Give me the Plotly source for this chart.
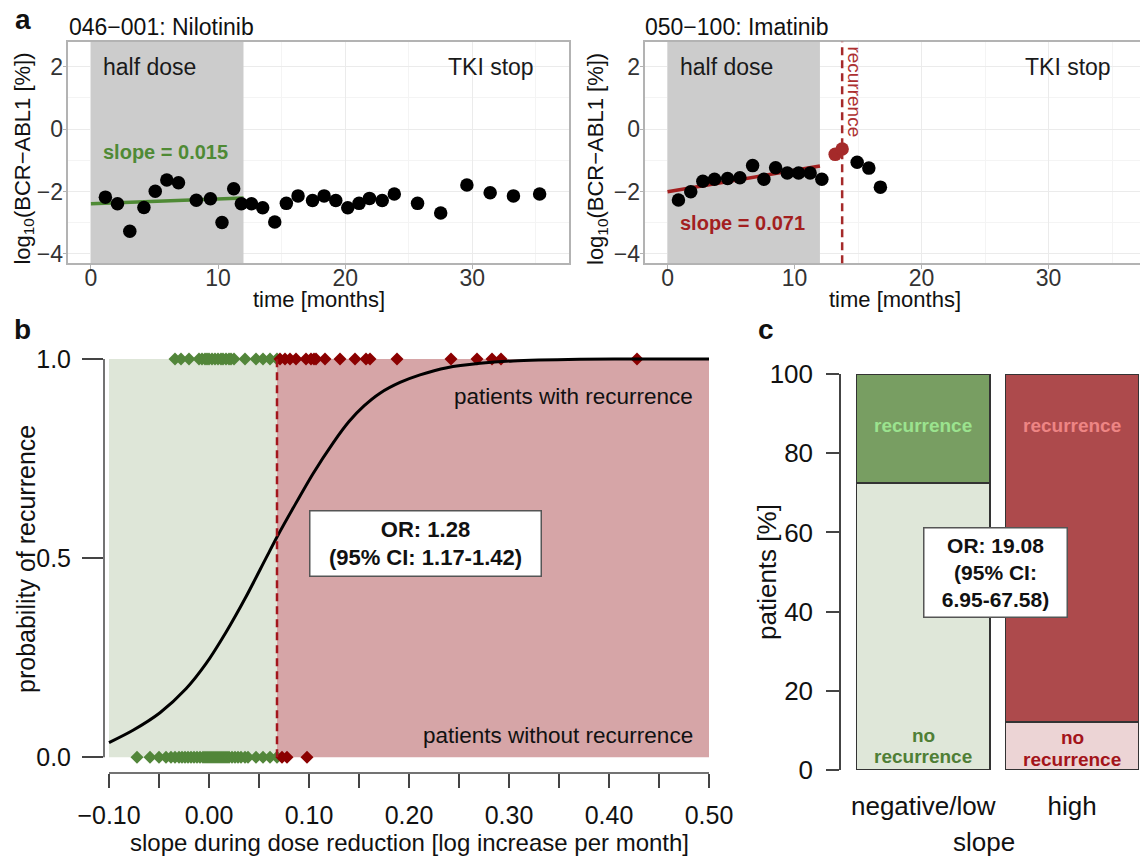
import plotly.graph_objects as go

# ---------------- data ----------------
# panel a, left: 046-001 Nilotinib
nil_t = [1.14, 2.09, 3.06, 4.17, 5.06, 5.97, 6.89, 8.29, 9.40, 10.31, 11.23, 11.83, 12.63, 13.51, 14.46,
         15.37, 16.29, 17.43, 18.34, 19.26, 20.20, 21.09, 21.91, 22.91, 23.86, 25.69, 27.51, 29.57, 31.40,
         33.23, 35.29]
nil_v = [-2.18, -2.39, -3.27, -2.51, -1.99, -1.63, -1.72, -2.28, -2.23, -2.99, -1.91, -2.39, -2.39, -2.52,
         -2.98, -2.38, -2.14, -2.29, -2.14, -2.29, -2.52, -2.38, -2.22, -2.29, -2.08, -2.38, -2.69, -1.79,
         -2.04, -2.14, -2.08]
nil_fit_t = [0, 12]
nil_fit_v = [-2.39, -2.21]

# panel a, right: 050-100 Imatinib
ima_t = [0.86, 1.83, 2.78, 3.70, 4.73, 5.70, 6.70, 7.59, 8.51, 9.43, 10.32, 11.23, 12.15, 14.93, 15.85, 16.76]
ima_v = [-2.27, -2.01, -1.67, -1.61, -1.58, -1.56, -1.17, -1.61, -1.24, -1.41, -1.41, -1.41, -1.61, -1.06,
         -1.25, -1.86]
ima_rec_t = [13.20, 13.75]
ima_rec_v = [-0.81, -0.64]
ima_fit_t = [0, 12]
ima_fit_v = [-2.01, -1.18]
half_dose_period = [0, 12]
recurrence_time = 13.75
a_yrange = [-4.3, 2.8]

# panel b
threshold = 0.068
green_top = [-0.034, -0.028, -0.020, -0.010, -0.007, -0.004, -0.002, 0.000, 0.003, 0.006, 0.009, 0.012,
             0.014, 0.017, 0.020, 0.022, 0.025, 0.036, 0.047, 0.054, 0.061, 0.068]
red_top = [0.071, 0.076, 0.081, 0.087, 0.097, 0.102, 0.105, 0.107, 0.116, 0.131, 0.146, 0.157, 0.161,
           0.188, 0.242, 0.268, 0.283, 0.292, 0.428]
green_bottom = [-0.072, -0.059, -0.050, -0.043, -0.038, -0.034, -0.030, -0.027, -0.024, -0.021, -0.018,
                -0.015, -0.012, -0.009, -0.006, -0.004, -0.002, 0.000, 0.002, 0.004, 0.006, 0.008, 0.010,
                0.012, 0.014, 0.016, 0.018, 0.020, 0.023, 0.026, 0.029, 0.032, 0.036, 0.039, 0.047, 0.054,
                0.061, 0.068]
red_bottom = [0.073, 0.078, 0.098]
curve_x = [-0.100, -0.076, -0.049, -0.023, -0.003, 0.017, 0.037, 0.057, 0.068, 0.084, 0.104, 0.124, 0.140,
           0.155, 0.171, 0.191, 0.211, 0.238, 0.271, 0.304, 0.371, 0.440, 0.500]
curve_p = [0.037, 0.068, 0.112, 0.172, 0.235, 0.314, 0.403, 0.500, 0.553, 0.625, 0.712, 0.789, 0.843,
           0.882, 0.914, 0.941, 0.960, 0.978, 0.989, 0.995, 0.999, 1.000, 1.000]

# panel c
slope_groups = ["negative/low", "high"]
pct_no_recurrence = [72.5, 12.1]
pct_recurrence = [27.5, 87.9]

# ---------------- layout helpers ----------------
W, H = 1140, 857
def px(x): return x / W
def py(y): return 1 - y / H

FONT = "Liberation Sans, Arial, Helvetica, sans-serif"
GREEN_PT = "#52863a"
RED_PT = "#8b0000"

fig = go.Figure()

# panel a: grey "half dose" band (drawn as a filled trace so it covers the grid like ggplot)
for xa, ya in (("x", "y"), ("x2", "y2")):
    fig.add_trace(go.Scatter(
        x=[half_dose_period[0], half_dose_period[1], half_dose_period[1], half_dose_period[0], half_dose_period[0]],
        y=[a_yrange[0], a_yrange[0], a_yrange[1], a_yrange[1], a_yrange[0]],
        mode="lines", fill="toself", fillcolor="#cccccc", line=dict(width=0), hoverinfo="skip",
        xaxis=xa, yaxis=ya, showlegend=False))

fig.add_trace(go.Scatter(x=nil_fit_t, y=nil_fit_v, mode="lines", line=dict(color="#4f8a35", width=3.5),
                         xaxis="x", yaxis="y", showlegend=False))
fig.add_trace(go.Scatter(x=nil_t, y=nil_v, mode="markers", marker=dict(color="black", size=13.5),
                         xaxis="x", yaxis="y", showlegend=False))
fig.add_trace(go.Scatter(x=ima_fit_t, y=ima_fit_v, mode="lines", line=dict(color="#a31f1f", width=3.5),
                         xaxis="x2", yaxis="y2", showlegend=False))
fig.add_trace(go.Scatter(x=ima_t, y=ima_v, mode="markers", marker=dict(color="black", size=13.5),
                         xaxis="x2", yaxis="y2", showlegend=False))
fig.add_trace(go.Scatter(x=ima_rec_t, y=ima_rec_v, mode="markers", marker=dict(color="#a52a2a", size=13.5),
                         xaxis="x2", yaxis="y2", showlegend=False))

# panel b traces
fig.add_trace(go.Scatter(x=green_top, y=[1] * len(green_top), mode="markers",
                         marker=dict(symbol="diamond", color=GREEN_PT, size=10),
                         xaxis="x3", yaxis="y3", showlegend=False, cliponaxis=False))
fig.add_trace(go.Scatter(x=red_top, y=[1] * len(red_top), mode="markers",
                         marker=dict(symbol="diamond", color=RED_PT, size=10),
                         xaxis="x3", yaxis="y3", showlegend=False, cliponaxis=False))
fig.add_trace(go.Scatter(x=green_bottom, y=[0] * len(green_bottom), mode="markers",
                         marker=dict(symbol="diamond", color=GREEN_PT, size=10),
                         xaxis="x3", yaxis="y3", showlegend=False, cliponaxis=False))
fig.add_trace(go.Scatter(x=red_bottom, y=[0] * len(red_bottom), mode="markers",
                         marker=dict(symbol="diamond", color=RED_PT, size=10),
                         xaxis="x3", yaxis="y3", showlegend=False, cliponaxis=False))
fig.add_trace(go.Scatter(x=curve_x, y=curve_p, mode="lines",
                         line=dict(color="black", width=3, shape="spline", smoothing=0.8),
                         xaxis="x3", yaxis="y3", showlegend=False))

# panel c traces
xc = [0, 1]
fig.add_trace(go.Bar(x=xc, y=pct_no_recurrence, width=0.8965, xaxis="x4", yaxis="y4", showlegend=False,
                     marker=dict(color=["#dfe7d9", "#ecd4d5"], line=dict(color="#333333", width=1.3))))
fig.add_trace(go.Bar(x=xc, y=pct_recurrence, width=0.8965, xaxis="x4", yaxis="y4", showlegend=False,
                     marker=dict(color=["#789e62", "#ad4a4c"], line=dict(color="#333333", width=1.3))))

# ---------------- axes ----------------
tick_col = "#333333"
a_x = dict(dtick=10, tick0=0, showgrid=True, gridcolor="#ebebeb", gridwidth=1.2,
           minor=dict(dtick=5, tick0=0, showgrid=True, gridcolor="#f4f4f4", gridwidth=1),
           showline=True, mirror=True, linecolor="#b3b3b3", linewidth=1.5, zeroline=False,
           ticks="outside", ticklen=4, tickcolor="#b3b3b3", tickfont=dict(size=23, color=tick_col),
           ticklabelstandoff=-11, automargin=False)
a_y = dict(dtick=2, tick0=0, showgrid=True, gridcolor="#ebebeb", gridwidth=1.2,
           minor=dict(dtick=1, tick0=0, showgrid=True, gridcolor="#f4f4f4", gridwidth=1),
           showline=True, mirror=True, linecolor="#b3b3b3", linewidth=1.5, zeroline=False,
           ticks="outside", ticklen=4, tickcolor="#b3b3b3", tickfont=dict(size=23, color=tick_col),
           range=a_yrange, automargin=False, ticklabelstandoff=-5)
a_ydom = [py(263.3), py(41.7)]

fig.update_layout(
    xaxis=dict(domain=[px(68.4), px(569)], range=[-1.77, 37.6], anchor="y", **a_x),
    yaxis=dict(domain=a_ydom, anchor="x", **a_y),
    xaxis2=dict(domain=[px(645.3), 1.0], range=[-1.75, 37.2], anchor="y2", **a_x),
    yaxis2=dict(domain=a_ydom, anchor="x2", **a_y),
    xaxis3=dict(domain=[px(104), px(715)], range=[-0.105, 0.506], anchor="y3", dtick=0.1, tick0=-0.1,
                tickformat=".2f", showgrid=False, zeroline=False, showline=False, automargin=False,
                ticks="outside", ticklen=14, tickwidth=1.5, tickcolor="#444444",
                minor=dict(dtick=0.05, tick0=-0.1, ticks="outside", ticklen=14, tickwidth=1.5, tickcolor="#444444"),
                tickfont=dict(size=25, color="#111111"), ticklabelstandoff=6),
    yaxis3=dict(domain=[py(773), py(351)], range=[-0.0394, 1.020], anchor="x3", tickvals=[0, 0.5, 1],
                tickformat=".1f", showgrid=False, zeroline=False, showline=False, automargin=False,
                ticks="outside", ticklen=21, tickwidth=1.5, tickcolor="#444444",
                tickfont=dict(size=25, color="#111111"), ticklabelstandoff=6),
    xaxis4=dict(domain=[px(841), 1.0], range=[-0.553, 1.457], anchor="y4", tickvals=xc, ticktext=slope_groups,
                showgrid=False, zeroline=False, showline=False, ticks="", automargin=False,
                tickfont=dict(size=26, color="#111111"), ticklabelstandoff=18),
    yaxis4=dict(domain=[py(770), py(374)], range=[0, 100], anchor="x4", dtick=20, tick0=0,
                showgrid=False, zeroline=False, showline=True, linecolor="#444444", linewidth=1.5,
                ticks="outside", ticklen=13, tickwidth=1.5, tickcolor="#444444", automargin=False,
                tickfont=dict(size=26, color="#111111"), ticklabelstandoff=8),
    barmode="stack",
    width=W, height=H, margin=dict(l=0, r=0, t=0, b=0, autoexpand=False),
    paper_bgcolor="white", plot_bgcolor="white",
    font=dict(family=FONT, color="#111111"),
    showlegend=False,
)

# ---------------- shapes ----------------
shapes = [
    dict(type="line", xref="x2", yref="y2 domain", x0=recurrence_time, x1=recurrence_time, y0=0, y1=1,
         line=dict(color="#a52a2a", width=2.5, dash="8px,5px")),
    dict(type="rect", xref="x3", yref="y3", x0=-0.1, x1=threshold, y0=0, y1=1,
         fillcolor="#dee6d8", line=dict(width=0), layer="below"),
    dict(type="rect", xref="x3", yref="y3", x0=threshold, x1=0.5, y0=0, y1=1,
         fillcolor="#d6a5a7", line=dict(width=0), layer="below"),
    dict(type="line", xref="x3", yref="y3", x0=threshold, x1=threshold, y0=0, y1=1,
         line=dict(color="#a3161c", width=2.5, dash="8px,5px")),
    dict(type="line", xref="paper", yref="y3", x0=px(104), x1=px(104), y0=0, y1=1,
         line=dict(color="#444444", width=1.5)),
    dict(type="line", xref="x3", yref="paper", x0=-0.1, x1=0.5, y0=py(773), y1=py(773),
         line=dict(color="#444444", width=1.5)),
]
fig.update_layout(shapes=shapes)

# ---------------- annotations ----------------
def ann(text, x, y, xref="paper", yref="paper", size=23, color="#111111", xanchor="center",
        yanchor="middle", angle=0, **kw):
    fig.add_annotation(text=text, x=x, y=y, xref=xref, yref=yref, showarrow=False,
                       font=dict(size=size, color=color, family=FONT), xanchor=xanchor,
                       yanchor=yanchor, textangle=angle, **kw)

# panel letters
ann("<b>a</b>", px(13), py(19), size=28, xanchor="left")
ann("<b>b</b>", px(12), py(330), size=28, xanchor="left")
ann("<b>c</b>", px(756), py(330), size=28, xanchor="left")

# panel a
ann("046−001: Nilotinib", px(67), py(27), size=23, xanchor="left")
ann("050−100: Imatinib", px(642.5), py(27), size=23, xanchor="left")
for xr, yr in (("x", "y"), ("x2", "y2")):
    ann("half dose", 0.8, 2.0, xref=xr, yref=yr, size=23, xanchor="left", color="#1a1a1a")
    ann("TKI stop", 31.5, 2.0, xref=xr, yref=yr, size=23, color="#1a1a1a")
ann("<b>slope = 0.015</b>", 0.8, -0.75, xref="x", yref="y", size=20, xanchor="left", color="#4f8a35")
ann("<b>slope = 0.071</b>", 0.8, -3.0, xref="x2", yref="y2", size=20, xanchor="left", color="#a31f1f")
ann("recurrence", 14.7, 1.2, xref="x2", yref="y2", size=19, angle=90, color="#ad3030")
ann("log<sub>10</sub>(BCR−ABL1 [%])", px(23.6), py(159), size=22, angle=-90)
ann("log<sub>10</sub>(BCR−ABL1 [%])", px(597), py(159), size=22, angle=-90)
ann("time [months]", px(318.5), py(299), size=22)
ann("time [months]", px(895), py(299), size=22)

# panel b
ann("probability of recurrence", px(26), py(559), size=25, angle=-90)
ann("slope during dose reduction [log increase per month]", px(409), py(842), size=24)
ann("patients with recurrence", 0.486, 0.906, xref="x3", yref="y3", size=22.5, xanchor="right")
ann("patients without recurrence", 0.486, 0.0535, xref="x3", yref="y3", size=22.5, xanchor="right")
ann("<b>OR: 1.28</b><br><b>(95% CI: 1.17-1.42)</b>", 0.216, 0.537, xref="x3", yref="y3", size=22,
    bgcolor="white", bordercolor="#555555", borderwidth=1.5, borderpad=4, width=222, height=56)

# panel c
ann("patients [%]", px(767), py(572), size=26, angle=-90)
ann("slope", px(984), py(842), size=26)
ann("<b>recurrence</b>", 0, 87.1, xref="x4", yref="y4", size=19, color="#9be38e")
ann("<b>recurrence</b>", 1, 87.1, xref="x4", yref="y4", size=19, color="#ee8584")
ann("<b>no</b>", 0, 8.6, xref="x4", yref="y4", size=19, color="#4f7f36")
ann("<b>recurrence</b>", 0, 3.4, xref="x4", yref="y4", size=19, color="#4f7f36")
ann("<b>no</b>", 1, 8.2, xref="x4", yref="y4", size=19, color="#a3141b")
ann("<b>recurrence</b>", 1, 2.7, xref="x4", yref="y4", size=19, color="#a3141b")
ann("<b>OR: 19.08</b><br><b>(95% CI:</b><br><b>6.95-67.58)</b>", 0.486, 50.0, xref="x4", yref="y4", size=21,
    bgcolor="white", bordercolor="#555555", borderwidth=1.5, borderpad=4, width=134, height=80)

fig.write_html("out.html", config={"displayModeBar": False},
               post_script="document.body.style.margin='0px';document.body.style.overflow='hidden';")
